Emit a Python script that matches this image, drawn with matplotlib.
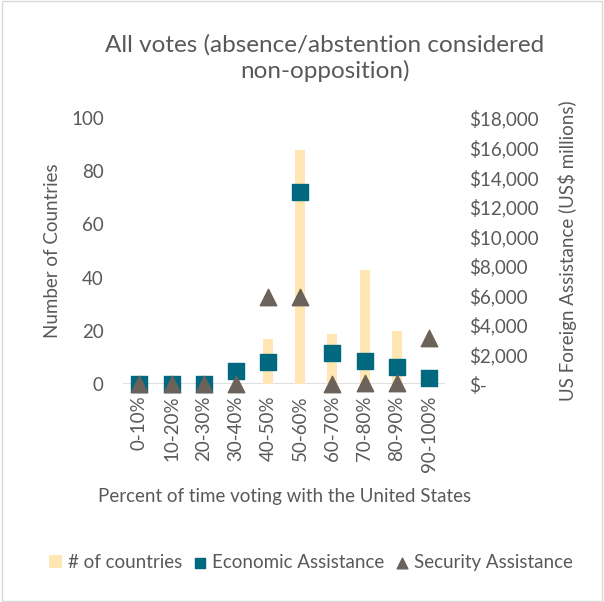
import matplotlib.pyplot as plt
import matplotlib.ticker as mticker
from matplotlib.patches import Rectangle
import numpy as np

plt.rcParams['font.family'] = ['Lato', 'DejaVu Sans']

# vote-agreement buckets
buckets = ['0-10%', '10-20%', '20-30%', '30-40%', '40-50%',
           '50-60%', '60-70%', '70-80%', '80-90%', '90-100%']
# number of countries in each bucket
n_countries = [0, 0, 0, 0, 17, 88, 19, 43, 20, 0]
# assistance, US$ millions
economic = [0, 0, 0, 900, 1470, 13000, 2080, 1540, 1170, 390]
security = [0, 0, 0, 0, 5900, 5900, 0, 50, 50, 3130]

grey_text = '#595959'
bar_color = '#FFE6B3'
econ_color = '#00697F'
sec_color = '#6B6259'

fig = plt.figure(figsize=(6.04, 6.02), dpi=100)
ax1 = fig.add_axes([0.204, 0.362, 0.533, 0.442])
ax2 = ax1.twinx()

x = np.arange(len(buckets))
bars = ax1.bar(x, n_countries, width=0.31, color=bar_color, label='# of countries', zorder=1)
ax1.axhline(0, color='#D9D9D9', lw=1.2, zorder=0)
ax1.set_ylim(0, 100)
ax1.set_xlim(-0.5, len(buckets) - 0.5)
ax1.set_yticks(range(0, 101, 20))

sq = ax2.scatter(x, economic, marker='s', s=130, color=econ_color, label='Economic Assistance', zorder=3)
tri = ax2.scatter(x, security, marker='^', s=140, color=sec_color, label='Security Assistance', zorder=4)
ax2.set_ylim(0, 18000)
ax2.set_yticks(range(0, 18001, 2000))
ax2.yaxis.set_major_formatter(mticker.FuncFormatter(lambda v, p: '$-' if v == 0 else f'${v:,.0f}'))

ax1.set_zorder(ax2.get_zorder() - 1)
ax2.patch.set_visible(False)
for a in (ax1, ax2):
    for s in a.spines.values():
        s.set_visible(False)
    a.tick_params(length=0, labelsize=13.5, colors=grey_text)
sq.set_clip_on(False)
tri.set_clip_on(False)

ax1.tick_params(axis='y', pad=14)
ax2.tick_params(axis='y', pad=17)
ax1.set_xticks(x)
ax1.set_xticklabels(buckets, rotation=90)
ax1.tick_params(axis='x', pad=8)

ax1.set_ylabel('Number of Countries', fontsize=13.5, color=grey_text, labelpad=7)
ax2.set_ylabel('US Foreign Assistance (US$ millions)', fontsize=13.5, color=grey_text, labelpad=14)
ax1.set_xlabel('Percent of time voting with the United States', fontsize=13.5, color=grey_text, labelpad=12)

fig.text(0.538, 0.903, 'All votes (absence/abstention considered\nnon-opposition)',
         ha='center', va='center', fontsize=17.5, color=grey_text, linespacing=1.25)

fig.legend(handles=[bars, sq, tri], loc='center', bbox_to_anchor=(0.515, 0.066), ncol=3,
           frameon=False, fontsize=13.5, labelcolor=grey_text, handlelength=0.7,
           handleheight=0.7, handletextpad=0.3, columnspacing=0.6, markerscale=0.65)

fig.patches.append(Rectangle((0.004, 0.002), 0.992, 0.996, transform=fig.transFigure,
                             fill=False, edgecolor='#D9D9D9', lw=1))

fig.savefig('out.png', dpi=100)
